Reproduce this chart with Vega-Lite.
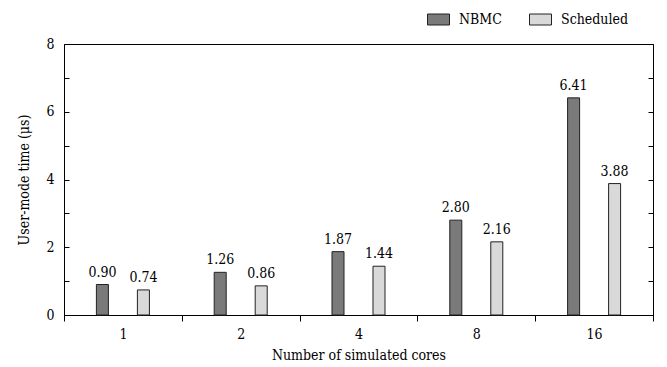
{
  "$schema": "https://vega.github.io/schema/vega-lite/v6.json",
  "width": 589,
  "height": 271,
  "autosize": "none",
  "padding": {"left": 64, "top": 44, "right": 14, "bottom": 52},
  "background": "white",
  "config": {
    "font": "DejaVu Serif Condensed",
    "view": {"stroke": "black", "strokeWidth": 1},
    "axis": {
      "domainColor": "black",
      "tickColor": "black",
      "labelColor": "black",
      "titleColor": "black",
      "labelFont": "DejaVu Serif Condensed",
      "titleFont": "DejaVu Serif Condensed",
      "labelFontSize": 14,
      "titleFontSize": 14,
      "titleFontWeight": "normal",
      "grid": false
    },
    "legend": {"labelFont": "DejaVu Serif Condensed", "labelFontSize": 14, "labelColor": "black"}
  },
  "data": {
    "values": [
      {"cores": "1", "series": "NBMC", "time": 0.90},
      {"cores": "1", "series": "Scheduled", "time": 0.74},
      {"cores": "2", "series": "NBMC", "time": 1.26},
      {"cores": "2", "series": "Scheduled", "time": 0.86},
      {"cores": "4", "series": "NBMC", "time": 1.87},
      {"cores": "4", "series": "Scheduled", "time": 1.44},
      {"cores": "8", "series": "NBMC", "time": 2.80},
      {"cores": "8", "series": "Scheduled", "time": 2.16},
      {"cores": "16", "series": "NBMC", "time": 6.41},
      {"cores": "16", "series": "Scheduled", "time": 3.88}
    ]
  },
  "layer": [
    {
      "mark": {"type": "bar", "stroke": "#222222", "strokeWidth": 1},
      "encoding": {
        "x": {
          "field": "cores",
          "type": "ordinal",
          "sort": ["1", "2", "4", "8", "16"],
          "scale": {"paddingInner": 0, "paddingOuter": 0},
          "axis": {
            "title": "Number of simulated cores",
            "labelAngle": 0,
            "ticks": true,
            "tickBand": "extent",
            "tickSize": 6,
            "labelPadding": 6,
            "titlePadding": 7
          }
        },
        "xOffset": {
          "field": "series",
          "sort": ["NBMC", "Scheduled"],
          "scale": {"paddingInner": 0.707, "paddingOuter": 0.79}
        },
        "color": {
          "field": "series",
          "type": "nominal",
          "sort": ["NBMC", "Scheduled"],
          "scale": {"range": ["#7a7a7a", "#d9d9d9"]},
          "legend": {
            "title": null,
            "orient": "none",
            "direction": "horizontal",
            "legendX": 363,
            "legendY": -36,
            "symbolType": "M-1,-0.5H1V0.5H-1Z",
            "symbolSize": 484,
            "symbolStrokeColor": "#222222",
            "symbolStrokeWidth": 1,
            "symbolOpacity": 1,
            "labelOffset": 9,
            "columnPadding": 25
          }
        },
        "y": {
          "field": "time",
          "type": "quantitative",
          "scale": {"domain": [0, 8]},
          "axis": {
            "title": "User-mode time (μs)",
            "values": [0, 1, 2, 3, 4, 5, 6, 7, 8],
            "labelExpr": "datum.value % 2 == 0 ? datum.label : ''",
            "tickSize": -5,
            "labelPadding": 15,
            "titlePadding": 14
          }
        }
      }
    },
    {
      "mark": {"type": "text", "baseline": "alphabetic", "dy": -8, "fontSize": 14, "color": "black", "font": "DejaVu Serif Condensed"},
      "encoding": {
        "x": {"field": "cores", "type": "ordinal", "sort": ["1", "2", "4", "8", "16"]},
        "xOffset": {"field": "series", "sort": ["NBMC", "Scheduled"]},
        "text": {"field": "time", "type": "quantitative", "format": ".2f"},
        "y": {
          "field": "time",
          "type": "quantitative",
          "scale": {"domain": [0, 8]},
          "axis": {
            "orient": "right",
            "title": null,
            "labels": false,
            "values": [0, 1, 2, 3, 4, 5, 6, 7, 8],
            "tickSize": -5
          }
        }
      }
    }
  ],
  "resolve": {"axis": {"y": "independent"}}
}
